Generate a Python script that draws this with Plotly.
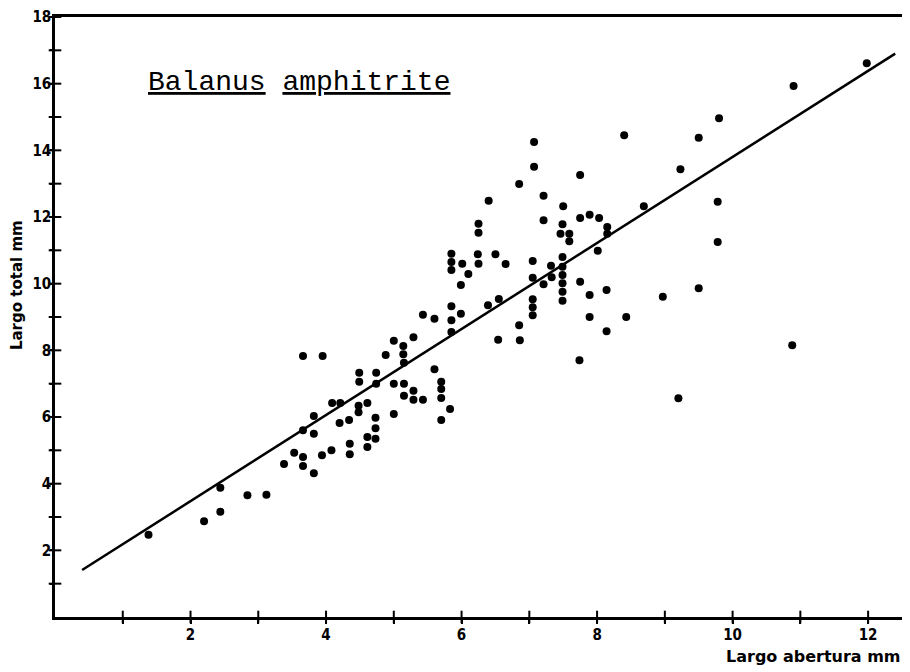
import plotly.graph_objects as go

# Scatter data: Largo abertura (mm) vs Largo total (mm)
abertura = [1.38, 2.20, 2.44, 2.44, 2.84, 3.12, 3.38, 3.53, 3.66, 3.66,
            3.82, 3.94, 4.08, 4.35, 4.35, 4.61, 4.61, 4.73, 4.73, 4.73,
            3.82, 3.66, 3.82, 4.20, 4.34, 4.09, 4.21, 4.48, 4.48, 4.61,
            5.00, 3.66, 3.95, 4.49, 4.49, 4.74, 4.74, 4.88, 5.00, 5.14,
            5.14, 5.15, 5.29, 5.00, 5.15, 5.15, 5.29, 5.29, 5.43, 5.60,
            5.70, 5.70, 5.70, 5.83, 5.70, 5.43, 5.60, 5.85, 5.99, 5.85,
            5.85, 5.85, 5.85, 5.85, 6.01, 6.10, 5.99, 6.25, 6.25, 6.24,
            6.25, 6.40, 6.50, 6.65, 6.39, 6.55, 6.54, 6.85, 7.07, 7.21,
            7.21, 7.05, 7.05, 7.21, 7.05, 7.05, 7.05, 6.85, 6.86, 7.32,
            7.33, 7.49, 7.49, 7.49, 7.49, 7.49, 7.49, 7.50, 7.49, 7.46,
            7.59, 7.59, 7.75, 7.75, 7.89, 8.03, 8.15, 8.15, 8.01, 8.69,
            7.75, 7.89, 8.14, 7.89, 8.14, 8.43, 8.97, 9.23, 9.50, 9.80,
            9.78, 9.78, 10.90, 11.98, 9.50, 10.88, 9.20, 7.74, 7.07, 8.40]
total = [2.47, 2.87, 3.16, 3.88, 3.65, 3.67, 4.59, 4.93, 4.80, 4.53,
         4.31, 4.85, 5.00, 5.20, 4.88, 5.40, 5.10, 5.66, 5.35, 5.98,
         5.50, 5.60, 6.03, 5.82, 5.91, 6.42, 6.42, 6.34, 6.14, 6.42,
         6.09, 7.83, 7.83, 7.33, 7.06, 7.33, 7.00, 7.86, 8.29, 8.13,
         7.88, 7.63, 8.39, 7.00, 7.00, 6.64, 6.79, 6.52, 6.52, 7.43,
         7.06, 6.84, 6.57, 6.24, 5.91, 9.07, 8.95, 9.32, 9.10, 8.90,
         8.55, 10.90, 10.65, 10.41, 10.60, 10.29, 9.96, 11.80, 11.53, 10.88,
         10.60, 12.49, 10.88, 10.59, 9.35, 9.54, 8.32, 12.99, 13.51, 12.64,
         11.90, 10.68, 10.18, 9.98, 9.53, 9.29, 9.05, 8.75, 8.30, 10.54,
         10.19, 10.80, 10.51, 10.26, 10.01, 9.76, 9.49, 12.32, 11.78, 11.50,
         11.50, 11.27, 13.26, 11.97, 12.07, 11.97, 11.70, 11.50, 10.99, 12.32,
         10.06, 9.66, 9.81, 9.00, 8.57, 9.00, 9.61, 13.43, 14.38, 14.96,
         12.46, 11.25, 15.93, 16.61, 9.86, 8.15, 6.56, 7.70, 14.25, 14.45]

# Regression line end points
fit_x = [0.40, 12.40]
fit_y = [1.41, 16.90]

x_range = [0, 12.5]
y_range = [0, 18]
x_tickvals = [1, 2, 3, 4, 5, 6, 7, 8, 9, 10, 11, 12]
x_ticktext = ["", "2", "", "4", "", "6", "", "8", "", "10", "", "12"]
y_tickvals = list(range(1, 19))
y_ticktext = ["", "2", "", "4", "", "6", "", "8", "", "10", "", "12", "", "14", "", "16", "", "18"]

title_text = "<u>Balanus</u> <u>amphitrite</u>"
x_title = "Largo abertura mm"
y_title = "Largo total mm"

tick_font = dict(family="DejaVu Sans Condensed, DejaVu Sans", size=15, color="black", weight="bold")

fig = go.Figure()
fig.add_trace(go.Scatter(x=abertura, y=total, mode="markers",
                         marker=dict(color="black", size=8),
                         showlegend=False, hoverinfo="x+y"))
fig.add_trace(go.Scatter(x=fit_x, y=fit_y, mode="lines",
                         line=dict(color="black", width=2.5),
                         showlegend=False, hoverinfo="skip"))
# crossing tick marks ("+" style) on both axes, placed at the tick values
fig.add_trace(go.Scatter(x=x_tickvals, y=[y_range[0]] * len(x_tickvals), mode="markers",
                         marker=dict(symbol="line-ns-open", size=9, color="black",
                                     line=dict(color="black", width=2)),
                         cliponaxis=False, showlegend=False, hoverinfo="skip"))
fig.add_trace(go.Scatter(x=[x_range[0]] * len(y_tickvals), y=y_tickvals, mode="markers",
                         marker=dict(symbol="line-ew-open", size=9, color="black",
                                     line=dict(color="black", width=2)),
                         cliponaxis=False, showlegend=False, hoverinfo="skip"))

fig.update_layout(
    template="none",
    width=910, height=672,
    margin=dict(l=47, r=16, t=9, b=63),
    paper_bgcolor="white", plot_bgcolor="white",
    xaxis=dict(range=x_range, tickmode="array", tickvals=x_tickvals, ticktext=x_ticktext,
               showgrid=False, zeroline=False, automargin=False,
               ticks="outside", ticklen=4, tickwidth=2, tickcolor="black",
               showline=True, linewidth=2.5, linecolor="black", mirror=True,
               tickfont=tick_font, ticklabelstandoff=-2, ticklabeloverflow="allow"),
    yaxis=dict(range=y_range, tickmode="array", tickvals=y_tickvals, ticktext=y_ticktext,
               showgrid=False, zeroline=False, automargin=False,
               ticks="outside", ticklen=2, tickwidth=2, tickcolor="black",
               showline=True, linewidth=2.5, linecolor="black", mirror=True,
               tickfont=tick_font, ticklabelstandoff=-4, ticklabeloverflow="allow"),
    annotations=[
        dict(text=title_text, xref="paper", yref="paper", x=0.288, y=0.89,
             xanchor="center", yanchor="middle", showarrow=False,
             font=dict(family="Liberation Mono, Courier New, monospace", size=28, color="black")),
        dict(text=x_title, xref="paper", yref="paper", x=1.001, y=-0.066,
             xanchor="right", yanchor="middle", showarrow=False,
             font=dict(family="DejaVu Sans", size=16, color="black", weight="bold")),
        dict(text=y_title, xref="paper", yref="paper", x=-0.045, y=0.553,
             xanchor="center", yanchor="middle", textangle=-90, showarrow=False,
             font=dict(family="DejaVu Sans", size=15, color="black", weight="bold")),
    ],
)

fig.write_html("out.html")
